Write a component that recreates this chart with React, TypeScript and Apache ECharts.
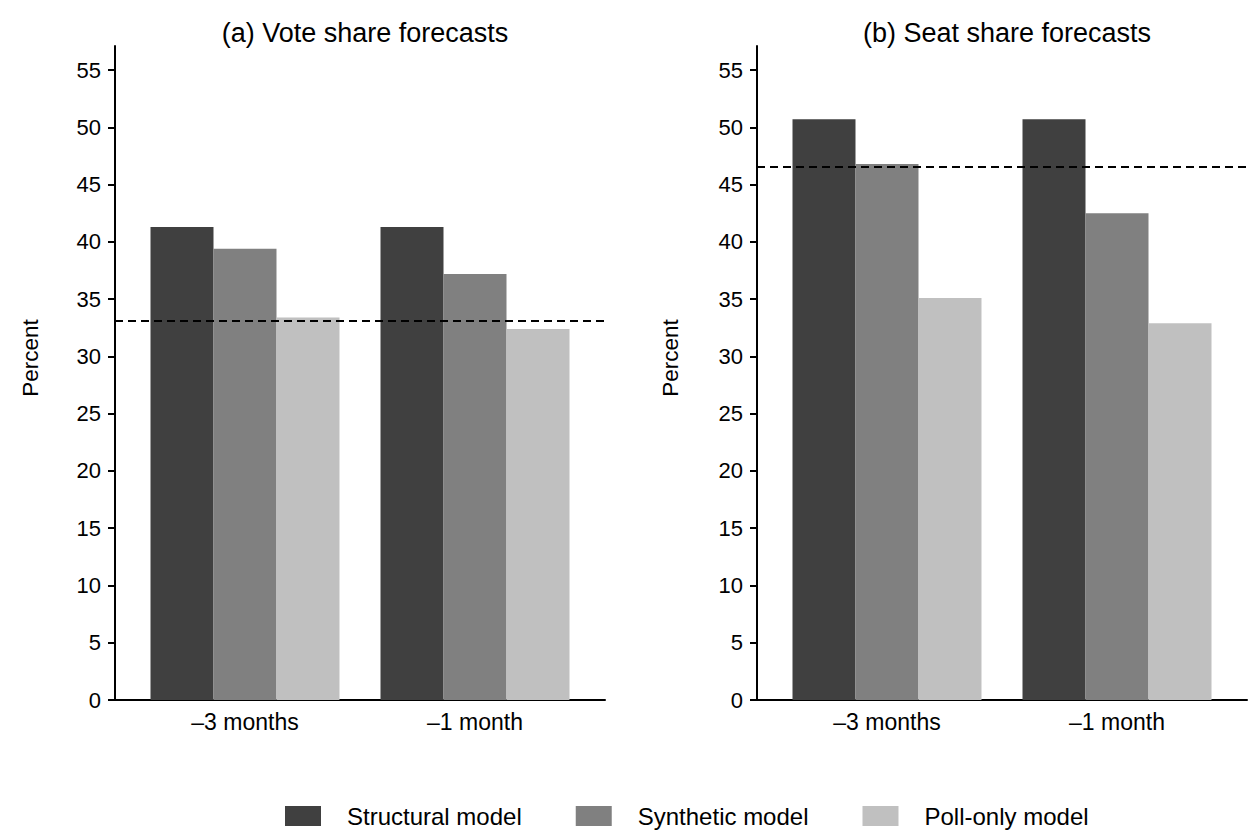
import React, { useEffect, useRef } from "react";
import * as echarts from "echarts";

const categories = ["\u20133 months", "\u20131 month"];
const seriesNames = ["Structural model", "Synthetic model", "Poll-only model"];
const colors = ["#404040", "#808080", "#c0c0c0"];

// Panel (a) Vote share
const voteStructural = [41.3, 41.3];
const voteSynthetic = [39.4, 37.2];
const votePollOnly = [33.4, 32.4];
const voteActual = 33.1;

// Panel (b) Seat share
const seatStructural = [50.7, 50.7];
const seatSynthetic = [46.8, 42.5];
const seatPollOnly = [35.1, 32.9];
const seatActual = 46.55;

const yTicks = [0, 5, 10, 15, 20, 25, 30, 35, 40, 45, 50, 55];
const panelTitles = ["(a) Vote share forecasts", "(b) Seat share forecasts"];

const FONT = "'Liberation Sans', Arial, Helvetica, sans-serif";

export default function App() {
  const ref = useRef<HTMLDivElement>(null);

  useEffect(() => {
    document.body.style.margin = "0";
    const chart = echarts.init(ref.current!, null, { renderer: "svg" });

    const grids = [
      { left: 115, top: 46, width: 490, height: 654 },
      { left: 757, top: 46, width: 490, height: 654 },
    ];
    const catPos = [1, 2];

    const xAxes = grids.map((_, i) => ({
      type: "value",
      gridIndex: i,
      min: 0.4348,
      max: 2.5652,
      splitLine: { show: false },
      axisLine: { show: true, onZero: false, lineStyle: { color: "#000", width: 2 } },
      axisTick: { show: false },
      axisLabel: {
        customValues: catPos,
        formatter: (v: number) => categories[Math.round(v) - 1] ?? "",
        color: "#000",
        fontSize: 23,
        fontFamily: FONT,
        margin: 10,
      },
    }));

    const yAxes = grids.map((_, i) => ({
      type: "value",
      gridIndex: i,
      min: 0,
      max: 57.1,
      interval: 5,
      splitLine: { show: false },
      axisLine: { show: true, lineStyle: { color: "#000", width: 2 } },
      axisTick: { show: true, length: 7, customValues: yTicks, lineStyle: { color: "#000", width: 2 } },
      axisLabel: {
        customValues: yTicks,
        color: "#000",
        fontSize: 22,
        fontFamily: FONT,
        margin: 14,
      },
    }));

    const panels = [
      { data: [voteStructural, voteSynthetic, votePollOnly], actual: voteActual },
      { data: [seatStructural, seatSynthetic, seatPollOnly], actual: seatActual },
    ];

    const series: any[] = [];
    panels.forEach((p, pi) => {
      p.data.forEach((vals, si) => {
        series.push({
          type: "bar",
          name: seriesNames[si],
          xAxisIndex: pi,
          yAxisIndex: pi,
          barWidth: 63,
          barGap: "0%",
          itemStyle: { color: colors[si] },
          data: vals.map((v, ci) => [catPos[ci], v]),
          markLine:
            si === 0
              ? {
                  silent: true,
                  symbol: "none",
                  label: { show: false },
                  lineStyle: { color: "#000", type: [8, 5], width: 1.8, opacity: 1 },
                  data: [{ yAxis: p.actual }],
                }
              : undefined,
        });
      });
    });

    chart.setOption({
      animation: false,
      textStyle: { fontFamily: FONT },
      title: panelTitles.map((t, i) => ({
        text: t,
        left: grids[i].left + grids[i].width / 2,
        top: 14,
        textAlign: "center",
        textStyle: { fontSize: 27, fontWeight: "normal", color: "#000", fontFamily: FONT },
      })),
      grid: grids,
      xAxis: xAxes,
      yAxis: yAxes,
      legend: {
        data: seriesNames,
        left: 285,
        top: 804,
        padding: 0,
        itemWidth: 36,
        itemHeight: 20,
        itemGap: 54,
        icon: "rect",
        textStyle: { fontSize: 24, color: "#000", fontFamily: FONT, padding: [0, 0, 0, 21] },
      },
      graphic: [0, 1].map((i) => ({
        type: "text",
        x: i === 0 ? 30 : 670,
        y: 358,
        rotation: Math.PI / 2,
        style: {
          text: "Percent",
          fontSize: 22.5,
          fontFamily: FONT,
          fill: "#000",
          align: "center",
          verticalAlign: "middle",
        },
      })),
      series,
    });

    return () => chart.dispose();
  }, []);

  return <div ref={ref} style={{ width: 1251, height: 830 }} />;
}
